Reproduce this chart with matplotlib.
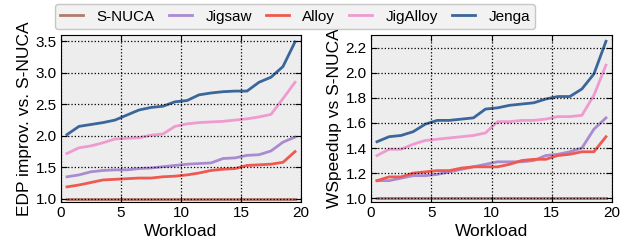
import numpy as np
import matplotlib
matplotlib.use('Agg')
import matplotlib.pyplot as plt

plt.rcParams['font.family'] = ['Liberation Sans', 'DejaVu Sans']

# workloads 0.5 .. 19.5 (sorted per series)
workload = [i + 0.5 for i in range(20)]

series = ['S-NUCA', 'Jigsaw', 'Alloy', 'JigAlloy', 'Jenga']
colors = ['#b07a6e', '#a98bd0', '#ee5a50', '#ef9ad0', '#3a6699']

edp_snuca = [1.0] * 20
edp_jigsaw = [1.35, 1.38, 1.43, 1.45, 1.46, 1.46, 1.48, 1.49, 1.51, 1.53,
              1.55, 1.56, 1.57, 1.64, 1.65, 1.69, 1.70, 1.76, 1.90, 1.98]
edp_alloy = [1.19, 1.22, 1.26, 1.30, 1.31, 1.32, 1.33, 1.33, 1.35, 1.36,
             1.38, 1.41, 1.45, 1.47, 1.48, 1.53, 1.54, 1.55, 1.58, 1.75]
edp_jigalloy = [1.72, 1.81, 1.84, 1.89, 1.95, 1.96, 1.97, 2.01, 2.03, 2.15,
                2.19, 2.21, 2.22, 2.23, 2.25, 2.27, 2.30, 2.34, 2.59, 2.85]
edp_jenga = [2.02, 2.15, 2.18, 2.21, 2.25, 2.33, 2.41, 2.45, 2.47, 2.54,
             2.56, 2.65, 2.68, 2.70, 2.71, 2.71, 2.85, 2.93, 3.10, 3.49]

ws_snuca = [1.0] * 20
ws_jigsaw = [1.14, 1.14, 1.16, 1.18, 1.18, 1.19, 1.21, 1.23, 1.25, 1.27,
             1.29, 1.29, 1.29, 1.30, 1.34, 1.35, 1.37, 1.40, 1.55, 1.64]
ws_alloy = [1.14, 1.17, 1.17, 1.20, 1.21, 1.22, 1.22, 1.24, 1.25, 1.25,
            1.25, 1.27, 1.30, 1.31, 1.31, 1.34, 1.35, 1.37, 1.37, 1.49]
ws_jigalloy = [1.34, 1.39, 1.39, 1.43, 1.46, 1.47, 1.48, 1.49, 1.50, 1.52,
               1.61, 1.61, 1.62, 1.62, 1.63, 1.65, 1.65, 1.66, 1.82, 2.06]
ws_jenga = [1.45, 1.49, 1.50, 1.53, 1.59, 1.62, 1.62, 1.63, 1.64, 1.71,
            1.72, 1.74, 1.75, 1.76, 1.79, 1.81, 1.81, 1.87, 1.99, 2.25]

edp = [edp_snuca, edp_jigsaw, edp_alloy, edp_jigalloy, edp_jenga]
ws = [ws_snuca, ws_jigsaw, ws_alloy, ws_jigalloy, ws_jenga]

fig = plt.figure(figsize=(6.36, 2.46), dpi=100)
ax1 = fig.add_axes([61/636, 44/246, 240/636, 167/246])
ax2 = fig.add_axes([371/636, 44/246, 241/636, 167/246])


def style(ax):
    ax.set_facecolor('#ededed')
    ax.grid(True, color='black', ls=':', lw=0.9)
    ax.set_axisbelow(False)
    ax.tick_params(direction='in', top=True, right=True, labelsize=11,
                   length=4, pad=3)
    for s in ax.spines.values():
        s.set_linewidth(0.8)
    ax.set_xlim(0, 20)
    ax.set_xticks([0, 5, 10, 15, 20])
    ax.set_xlabel('Workload', fontsize=12.5, labelpad=3)


for name, c, d in zip(series, colors, edp):
    ax1.plot(workload, d, color=c, lw=2, label=name)
style(ax1)
ax1.set_ylim(0.95, 3.6)
ax1.set_yticks([1.0, 1.5, 2.0, 2.5, 3.0, 3.5])
ax1.set_ylabel('EDP improv. vs. S-NUCA', fontsize=12.5, labelpad=3)

for name, c, d in zip(series, colors, ws):
    ax2.plot(workload, d, color=c, lw=2, label=name)
style(ax2)
ax2.set_ylim(0.97, 2.3)
ax2.set_yticks([1.0, 1.2, 1.4, 1.6, 1.8, 2.0, 2.2])
ax2.set_ylabel('WSpeedup vs S-NUCA', fontsize=12.5, labelpad=3)

handles, labels = ax1.get_legend_handles_labels()
leg = fig.legend(handles, labels, ncol=5, loc='center',
                 bbox_to_anchor=(295/636, 1 - 16.5/246), fontsize=11,
                 frameon=True, fancybox=True, handlelength=1.5,
                 handletextpad=0.9, columnspacing=0.9, borderpad=0.35)
leg.get_frame().set_facecolor('#efefef')
leg.get_frame().set_edgecolor('#bbbbbb')
leg.set_zorder(5)

fig.savefig('out.png', dpi=100)
